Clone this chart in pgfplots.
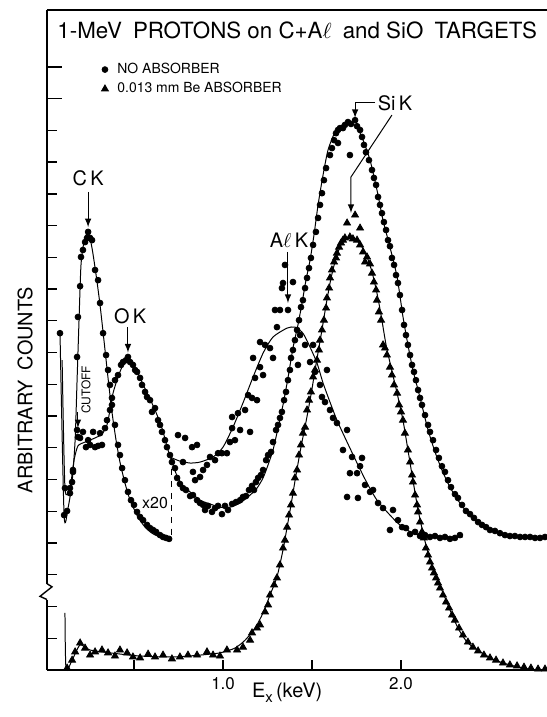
\documentclass[border=0pt]{standalone}
\usepackage{fontspec}
\setmainfont{TeX Gyre Heros}
\usepackage{pgfplots}
\pgfplotsset{compat=1.18}
\pgfplotsset{
  dot/.style={only marks, mark=*, mark size=1.45bp, black},
  tri/.style={only marks, mark=triangle*, mark size=2bp, black},
  fit/.style={no marks, smooth, tension=0.4, black, line width=0.5pt, forget plot},
}
\begin{document}
\begin{tikzpicture}
\begin{axis}[
  scale only axis, x=89bp, y=15.875bp,
  xmin=0.011, xmax=2.82, ymin=0, ymax=20.79,
  axis x line*=bottom, axis y line*=left,
  axis line style={-, line width=0.8pt},
  xtick={0.5,1,1.5,2}, xticklabels={,1.0,,2.0},
  ytick={1,...,17}, yticklabels={},
  extra y ticks={18,19}, extra y tick labels={},
  extra y tick style={major tick length=7.5bp},
  tick align=inside, major tick length=5bp,
  tick style={black, line width=0.7pt},
  xticklabel style={font=\fontsize{8.5}{9}\selectfont},
  clip=false,
  legend style={draw=none, fill=none, font=\fontsize{7}{8}\selectfont,
    at={(axis cs:0.315,19.2)}, anchor=north west, inner sep=0pt,
    row sep=1bp, cells={anchor=west}, nodes={inner sep=1bp},
    /tikz/every odd column/.append style={column sep=3.5bp}},
  legend image code/.code={\draw[mark repeat=2,mark phase=2,#1] plot coordinates {(0cm,0cm) (0.12cm,0cm) (0.24cm,0cm)};},
]
% C+Al target, no absorber, low-energy part (x20)
\addplot[fit] coordinates {(0.084,10.65) (0.107,4.88) (0.129,5.10) (0.152,5.92) (0.169,7.24) (0.180,9.13) (0.191,11.02) (0.202,12.76) (0.219,13.48) (0.242,13.80) (0.264,13.29) (0.287,12.44) (0.309,11.50) (0.331,10.39) (0.354,9.20) (0.376,8.13) (0.399,7.24) (0.421,6.55) (0.449,5.89) (0.478,5.35) (0.522,4.82) (0.562,4.50) (0.601,4.31) (0.646,4.19) (0.708,4.13)};
\addplot[dot] coordinates {(0.084,10.61) (0.107,4.88) (0.124,5.01) (0.140,5.57) (0.157,6.30) (0.180,7.56) (0.180,9.86) (0.185,11.12) (0.197,12.09) (0.202,13.01) (0.213,13.23) (0.225,13.48) (0.236,13.61) (0.242,13.80) (0.253,13.61) (0.264,13.54) (0.281,12.60) (0.298,12.28) (0.309,11.56) (0.326,10.61) (0.343,9.92) (0.354,9.45) (0.365,8.98) (0.376,8.35) (0.393,7.72) (0.410,7.09) (0.421,6.77) (0.433,6.36) (0.449,5.98) (0.466,5.61) (0.483,5.35) (0.500,5.20) (0.517,4.98) (0.534,4.82) (0.551,4.72) (0.573,4.57) (0.590,4.47) (0.607,4.41) (0.624,4.35) (0.646,4.25) (0.663,4.19) (0.680,4.16) (0.697,4.13)};
\addlegendentry{NO ABSORBER}
% C+Al target, no absorber, Al K region
\addplot[fit] coordinates {(0.713,6.68) (0.758,6.58) (0.815,6.52) (0.871,6.55) (0.944,6.71) (1.000,7.02) (1.056,7.65) (1.112,8.41) (1.169,9.23) (1.225,9.98) (1.281,10.49) (1.360,10.77) (1.404,10.80) (1.449,10.61) (1.489,10.17) (1.528,9.67) (1.562,9.04) (1.601,8.44) (1.640,7.87) (1.697,7.18) (1.753,6.52) (1.809,5.89) (1.865,5.35) (1.938,4.88) (1.994,4.57) (2.067,4.31) (2.163,4.19) (2.348,4.19)};
\addplot[dot, forget plot] coordinates {(0.747,7.40) (0.787,7.31) (0.775,6.55) (0.826,7.02) (0.854,7.09) (0.831,6.24) (0.843,5.98) (0.871,6.08) (0.888,6.30) (0.910,6.46) (0.927,6.71) (0.955,6.61) (0.972,6.83) (0.994,6.83) (1.022,6.83) (1.039,7.18) (1.051,7.62) (1.067,7.24) (1.051,7.97) (1.084,8.09) (1.096,7.56) (1.152,7.50) (1.124,8.19) (1.141,8.66) (1.163,8.57) (1.180,9.20) (1.169,9.83) (1.191,8.50) (1.208,9.54) (1.225,9.29) (1.208,10.33) (1.236,10.24) (1.264,10.14) (1.281,9.83) (1.292,11.34) (1.320,11.34) (1.303,10.80) (1.365,11.34) (1.331,12.03) (1.337,12.19) (1.348,12.76) (1.393,12.22) (1.421,9.61) (1.433,10.55) (1.461,10.24) (1.489,9.70) (1.506,10.24) (1.517,9.39) (1.545,8.98) (1.556,8.60) (1.573,8.44) (1.584,9.45) (1.601,8.19) (1.618,7.94) (1.640,7.78) (1.674,6.93) (1.697,7.56) (1.713,6.20) (1.725,6.71) (1.753,6.20) (1.770,6.42) (1.781,6.68) (1.697,5.45) (1.758,5.42) (1.798,5.83) (1.826,5.61) (1.843,5.67) (1.871,5.26) (1.899,5.10) (1.938,4.41) (1.955,5.04) (1.983,4.72) (2.006,4.50) (2.028,4.47) (2.051,4.28) (2.079,4.35) (2.107,4.22) (2.135,4.25) (2.163,4.19) (2.191,4.22) (2.219,4.16) (2.247,4.19) (2.275,4.13) (2.303,4.16) (2.331,4.25)};
% SiO target, no absorber
\addplot[fit] coordinates {(0.096,9.76) (0.112,5.73) (0.140,5.73) (0.163,6.61) (0.185,7.06) (0.225,7.18) (0.281,7.31) (0.320,7.43) (0.348,7.72) (0.365,8.19) (0.382,8.72) (0.410,9.23) (0.438,9.61) (0.466,9.76) (0.506,9.54) (0.545,9.07) (0.579,8.66) (0.618,8.19) (0.657,7.62) (0.691,6.93) (0.719,6.46) (0.742,6.11) (0.775,5.80) (0.815,5.61) (0.871,5.35) (0.927,5.23) (0.983,5.13) (1.039,5.13) (1.096,5.26) (1.152,5.51) (1.191,5.73) (1.225,6.05) (1.253,6.46) (1.281,6.93) (1.309,7.62) (1.337,8.35) (1.365,9.20) (1.393,10.14) (1.421,10.87) (1.444,11.56) (1.466,12.28) (1.489,12.91) (1.511,13.70) (1.534,14.65) (1.562,15.59) (1.590,16.38) (1.629,16.94) (1.669,17.17) (1.713,17.23) (1.753,17.10) (1.787,16.69) (1.826,16.06) (1.865,15.12) (1.899,14.17) (1.938,13.32) (1.978,12.38) (2.011,11.13) (2.039,10.24) (2.067,9.45) (2.096,8.82) (2.124,8.19) (2.152,7.56) (2.191,6.87) (2.230,6.30) (2.275,5.76) (2.331,5.26) (2.388,4.85) (2.444,4.60) (2.517,4.41) (2.596,4.25) (2.685,4.19) (2.820,4.16)};
\addplot[dot, forget plot] coordinates {(0.112,5.73) (0.140,5.73) (0.152,5.92) (0.157,6.24) (0.185,7.34) (0.197,7.31) (0.213,7.50) (0.230,7.02) (0.242,7.24) (0.253,7.09) (0.270,7.50) (0.281,7.02) (0.298,7.06) (0.309,7.46) (0.320,7.09) (0.337,7.62) (0.348,7.87) (0.365,8.19) (0.376,8.57) (0.393,9.13) (0.410,9.29) (0.427,9.61) (0.438,9.70) (0.455,9.76) (0.466,9.86) (0.478,9.70) (0.494,9.61) (0.506,9.45) (0.517,9.39) (0.534,9.20) (0.545,8.98) (0.562,8.76) (0.573,8.60) (0.590,8.50) (0.601,8.13) (0.618,8.25) (0.635,7.87) (0.646,7.72) (0.657,7.50) (0.674,7.24) (0.685,7.02) (0.702,6.77) (0.713,6.55) (0.730,6.36) (0.742,6.05) (0.758,5.86) (0.775,5.73) (0.792,5.67) (0.815,5.48) (0.831,5.51) (0.854,5.35) (0.871,5.26) (0.888,5.20) (0.899,5.04) (0.916,5.17) (0.938,4.98) (0.955,5.10) (0.972,5.17) (0.994,4.91) (1.011,5.17) (1.028,5.04) (1.051,5.23) (1.073,5.29) (1.096,5.35) (1.112,5.45) (1.129,5.48) (1.146,5.67) (1.163,5.80) (1.174,5.67) (1.185,5.92) (1.197,6.05) (1.213,6.14) (1.225,6.30) (1.242,6.61) (1.253,6.77) (1.270,6.87) (1.281,7.18) (1.298,7.56) (1.309,7.72) (1.320,7.94) (1.331,8.13) (1.343,8.50) (1.354,8.76) (1.365,9.13) (1.376,9.45) (1.382,9.83) (1.393,10.08) (1.404,10.39) (1.416,10.71) (1.427,11.02) (1.438,11.43) (1.449,11.65) (1.461,12.03) (1.472,12.35) (1.483,12.66) (1.494,12.98) (1.506,13.39) (1.522,13.80) (1.534,14.24) (1.545,14.65) (1.556,15.02) (1.567,15.43) (1.579,15.81) (1.601,16.22) (1.612,16.44) (1.624,16.69) (1.635,16.91) (1.646,17.01) (1.657,17.07) (1.674,17.07) (1.685,17.17) (1.702,17.26) (1.719,17.20) (1.742,17.32) (1.753,17.13) (1.770,17.01) (1.646,16.60) (1.713,16.22) (1.781,16.79) (1.792,16.54) (1.803,16.31) (1.820,16.06) (1.837,15.75) (1.848,15.50) (1.860,15.28) (1.871,14.90) (1.882,14.65) (1.893,14.39) (1.904,14.11) (1.916,13.86) (1.927,13.54) (1.938,13.35) (1.949,12.98) (1.961,12.76) (1.972,12.44) (1.983,12.19) (1.994,11.81) (2.006,11.34) (2.017,10.87) (2.028,10.55) (2.039,10.24) (2.051,9.92) (2.062,9.61) (2.073,9.39) (2.084,9.13) (2.096,8.82) (2.107,8.57) (2.118,8.35) (2.135,8.03) (2.152,7.72) (2.163,7.50) (2.180,7.24) (2.197,6.93) (2.213,6.68) (2.230,6.42) (2.247,6.24) (2.264,5.98) (2.281,5.76) (2.303,5.54) (2.320,5.42) (2.343,5.20) (2.365,5.01) (2.388,4.91) (2.410,4.79) (2.433,4.66) (2.455,4.57) (2.478,4.50) (2.500,4.41) (2.528,4.38) (2.556,4.31) (2.584,4.25) (2.612,4.22) (2.640,4.22) (2.669,4.19) (2.697,4.19) (2.725,4.19) (2.753,4.16) (2.781,4.16) (2.809,4.19)};
% SiO target, 0.013 mm Be absorber
\addplot[fit] coordinates {(0.112,1.80) (0.118,0.03) (0.152,0.31) (0.197,0.79) (0.253,0.63) (0.365,0.54) (0.534,0.44) (0.719,0.41) (0.871,0.47) (0.983,0.54) (1.067,0.69) (1.124,0.94) (1.180,1.32) (1.225,1.80) (1.264,2.36) (1.303,2.93) (1.337,3.78) (1.360,4.50) (1.382,5.20) (1.410,6.14) (1.438,7.02) (1.466,7.81) (1.494,8.66) (1.522,9.61) (1.551,10.55) (1.579,11.50) (1.607,12.35) (1.635,12.98) (1.663,13.39) (1.697,13.61) (1.730,13.61) (1.770,13.42) (1.809,13.01) (1.837,12.54) (1.865,11.87) (1.888,11.18) (1.916,10.24) (1.944,9.54) (1.978,8.72) (2.011,7.87) (2.039,6.93) (2.067,5.98) (2.096,5.04) (2.129,4.19) (2.163,3.46) (2.197,2.99) (2.225,2.58) (2.253,2.20) (2.287,1.73) (2.326,1.26) (2.376,0.85) (2.455,0.54) (2.528,0.31) (2.612,0.16) (2.685,0.06) (2.764,0.00) (2.820,0.00)};
\addplot[tri] coordinates {(0.124,0.06) (0.152,0.31) (0.169,0.57) (0.197,0.85) (0.225,0.69) (0.253,0.47) (0.281,0.57) (0.320,0.63) (0.354,0.54) (0.393,0.44) (0.421,0.63) (0.461,0.54) (0.494,0.41) (0.534,0.38) (0.579,0.50) (0.618,0.41) (0.663,0.47) (0.713,0.35) (0.758,0.41) (0.803,0.47) (0.854,0.47) (0.910,0.57) (0.944,0.47) (0.983,0.44) (1.022,0.63) (1.079,0.63) (1.112,0.72) (1.152,0.94) (1.163,1.17) (1.191,1.32) (1.208,1.42) (1.236,1.83) (1.253,2.05) (1.264,2.36) (1.287,2.68) (1.303,2.90) (1.320,3.31) (1.337,3.84) (1.348,4.09) (1.360,4.50) (1.371,4.88) (1.382,5.20) (1.393,5.57) (1.404,6.05) (1.416,6.30) (1.427,6.77) (1.438,7.09) (1.449,7.46) (1.461,7.65) (1.472,8.19) (1.483,8.50) (1.494,8.76) (1.506,9.23) (1.517,9.45) (1.528,9.76) (1.539,10.08) (1.545,10.39) (1.556,10.71) (1.567,11.02) (1.579,11.40) (1.584,11.72) (1.596,12.03) (1.601,12.35) (1.612,12.60) (1.624,12.85) (1.635,12.98) (1.640,13.13) (1.652,13.32) (1.663,13.45) (1.674,13.54) (1.685,13.61) (1.697,14.08) (1.713,13.64) (1.730,13.58) (1.742,14.33) (1.753,13.54) (1.770,13.92) (1.770,13.39) (1.787,13.17) (1.798,12.85) (1.809,13.01) (1.826,12.79) (1.837,12.50) (1.848,12.22) (1.860,11.97) (1.865,11.65) (1.876,11.28) (1.888,11.02) (1.899,10.24) (1.910,10.14) (1.921,9.92) (1.938,9.54) (1.949,9.29) (1.961,8.98) (1.978,8.72) (1.989,8.35) (2.000,8.13) (2.011,7.87) (2.022,7.46) (2.039,6.93) (2.051,6.55) (2.062,6.14) (2.067,5.92) (2.079,5.51) (2.090,5.20) (2.096,4.98) (2.107,4.66) (2.118,4.35) (2.129,4.16) (2.140,3.84) (2.152,3.62) (2.163,3.40) (2.174,3.21) (2.185,3.06) (2.197,2.90) (2.208,2.74) (2.219,2.58) (2.236,2.36) (2.253,2.14) (2.270,1.95) (2.287,1.73) (2.303,1.57) (2.326,1.32) (2.348,1.10) (2.376,0.88) (2.404,0.72) (2.433,0.60) (2.466,0.47) (2.500,0.38) (2.534,0.31) (2.573,0.22) (2.612,0.16) (2.652,0.13) (2.691,0.09) (2.730,0.06) (2.770,0.03) (2.809,0.03)};
\addlegendentry{0.013 mm Be ABSORBER}

% frame top and y-axis break
\draw[line width=0.8pt] (rel axis cs:0,1) -- (rel axis cs:1,1);
\fill[white] ([xshift=-1.5bp]axis cs:0.011,2.22) rectangle ([xshift=1.5bp]axis cs:0.011,2.72);
\draw[line width=0.7pt] (axis cs:0.011,2.72) -- ([xshift=2.5bp]axis cs:0.011,2.62) -- ([xshift=-3.5bp]axis cs:0.011,2.32) -- (axis cs:0.011,2.22);

% annotations
\node[anchor=west, font=\fontsize{11.2}{13}\selectfont] at (axis cs:0.030,20.16) {1-MeV\enspace PROTONS on C+A$\ell$\enspace and SiO\enspace TARGETS};
\node[font=\fontsize{10}{12}\selectfont] at (axis cs:0.242,15.50) {C\,K};
\draw[-latex, line width=0.5pt] (axis cs:0.242,15.06) -- (axis cs:0.242,13.95);
\node[font=\fontsize{10}{12}\selectfont] at (axis cs:0.478,11.15) {O\,K};
\draw[-latex, line width=0.5pt] (axis cs:0.466,10.80) -- (axis cs:0.466,10.00);
\node[font=\fontsize{10}{12}\selectfont] at (axis cs:1.371,13.54) {A$\ell$\,K};
\draw[-latex, line width=0.5pt] (axis cs:1.365,13.17) -- (axis cs:1.365,11.56);
\node[font=\fontsize{10}{12}\selectfont] at (axis cs:1.966,17.86) {Si\,K};
\draw[-latex, line width=0.5pt] (axis cs:1.854,17.89) -- (axis cs:1.742,17.89) -- (axis cs:1.742,17.39);
\draw[-latex, line width=0.5pt] (axis cs:1.949,17.48) -- (axis cs:1.719,15.53) -- (axis cs:1.719,14.40);
\node[font=\fontsize{8}{9}\selectfont] at (axis cs:0.618,5.26) {x20};
\draw[dashed, line width=0.5pt] (axis cs:0.708,6.71) -- (axis cs:0.708,4.13);
\node[rotate=90, font=\fontsize{6}{7}\selectfont] at (axis cs:0.230,8.82) {CUTOFF};
\draw[-latex, line width=0.5pt] (axis cs:0.185,8.12) -- (axis cs:0.185,7.62);
\node[rotate=90, font=\fontsize{10}{12}\selectfont] at ([xshift=-11bp]axis cs:0.011,8.82) {ARBITRARY\enspace COUNTS};
\node[font=\fontsize{10}{12}\selectfont] at (axis cs:1.36,-0.72) {E\raisebox{-0.45ex}{\fontsize{7.5}{8}\selectfont x}\,(keV)};

\coordinate (ll) at (rel axis cs:0,0);
\coordinate (ur) at (rel axis cs:1,1);
\end{axis}
\pgfresetboundingbox
\path ([shift={(-23.5bp,-23.5bp)}]ll) rectangle ([shift={(0bp,5bp)}]ur);
\end{tikzpicture}
\end{document}
